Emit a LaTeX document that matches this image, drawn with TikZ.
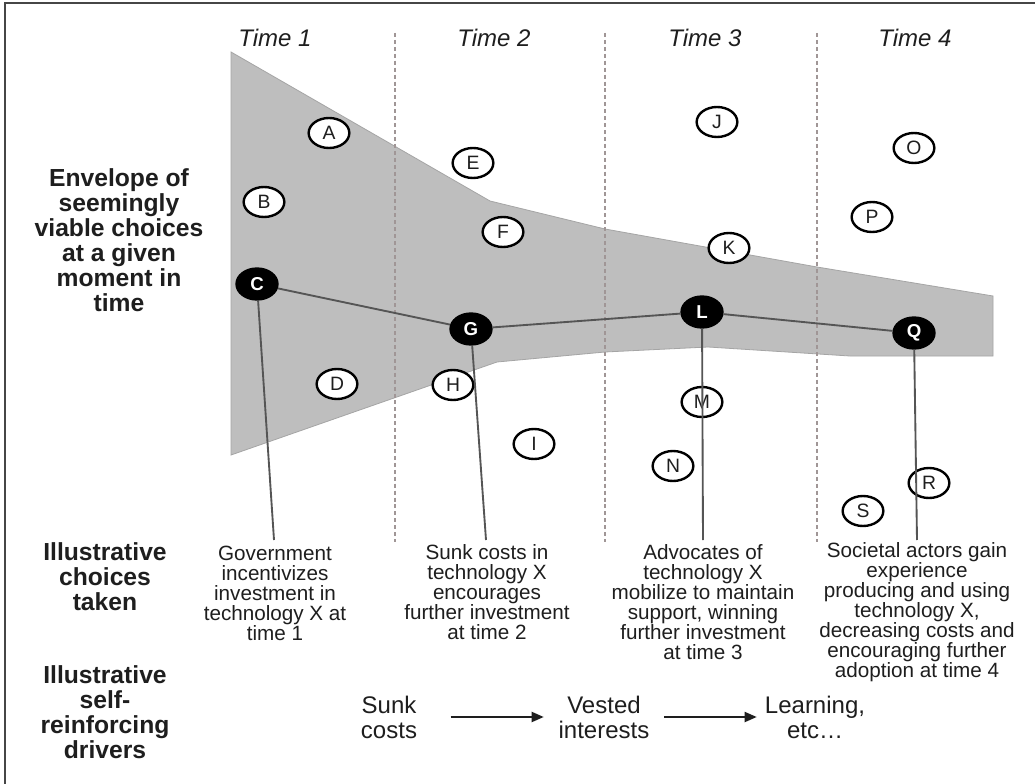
\documentclass[tikz,border=0pt]{standalone}
\usepackage{fontspec}
\setmainfont{Liberation Sans}
\usetikzlibrary{shapes.geometric,arrows.meta}
\definecolor{envfill}{RGB}{190,190,190}
\definecolor{envedge}{RGB}{165,165,165}
\definecolor{sep}{RGB}{160,150,150}
\definecolor{linkc}{RGB}{85,85,85}
\definecolor{txt}{RGB}{30,30,30}
\definecolor{framec}{RGB}{70,70,70}
\begin{document}
\begin{tikzpicture}[x=0.75pt,y=-0.75pt,
  option/.style={ellipse,draw=black,line width=1.8pt,fill=white,
    minimum width=30.5pt,minimum height=22.5pt,inner sep=0pt,
    font=\fontsize{14.5}{14.5}\selectfont,text=txt},
  chosen/.style={ellipse,fill=black,draw=black,line width=1pt,
    minimum width=31.5pt,minimum height=24pt,inner sep=0pt,
    font=\fontsize{14}{14}\selectfont\bfseries,text=white},
  link/.style={draw=linkc,line width=1.4pt},
  sepline/.style={draw=sep,line width=1.2pt,dash pattern=on 3pt off 2.2pt},
  timelbl/.style={font=\fontsize{18}{20}\selectfont\itshape,text=txt,inner sep=0pt},
  rowlbl/.style={font=\fontsize{18.5}{18.75}\selectfont\bfseries,text=txt,align=center,inner sep=0pt},
  choicetxt/.style={font=\fontsize{15.5}{15}\selectfont,text=txt,align=center,inner sep=0pt},
  drivertxt/.style={font=\fontsize{18}{18.75}\selectfont,text=txt,align=center,inner sep=0pt},
  driverarrow/.style={draw=txt,line width=1.4pt,-{Triangle[length=9pt,width=7.5pt]}}
]
\useasboundingbox (0,0) rectangle (1035,784);
\fill[white] (0,0) rectangle (1035,784);

% outer frame
\draw[framec,line width=1.6pt] (5,784) -- (5,3) -- (1035,3);

% envelope of viable choices
\fill[envfill,draw=envedge,line width=0.6pt]
  (231,52) -- (490,201) -- (605,229) -- (817,267) -- (993,296)
  -- (993,356) -- (850,356) -- (708,347) -- (605,352) -- (497,362)
  -- (231,455) -- cycle;

% time separators
\foreach \xx in {395,605,817}
  \draw[sepline] (\xx,33) -- (\xx,542);

% time headings
\node[timelbl] (t1) at (275,38) {Time 1};
\node[timelbl] (t2) at (494,38) {Time 2};
\node[timelbl] (t3) at (705,38) {Time 3};
\node[timelbl] (t4) at (915,38) {Time 4};

% row labels
\node[rowlbl] (envlbl) at (119,240) {Envelope of\\seemingly\\viable choices\\at a given\\moment in\\time};
\node[rowlbl] (chlbl) at (105,577) {Illustrative\\choices\\taken};
\node[rowlbl] (drlbl) at (105,712) {Illustrative\\self-\\reinforcing\\drivers};

% options not taken
\node[option] (A) at (329,133) {A};
\node[option] (B) at (264,202) {B};
\node[option] (D) at (337,384) {D};
\node[option] (E) at (473,163) {E};
\node[option] (F) at (503,232) {F};
\node[option] (H) at (453,385) {H};
\node[option] (I) at (534,444) {I};
\node[option] (J) at (717,122) {J};
\node[option] (K) at (729,248) {K};
\node[option] (M) at (702,402) {M};
\node[option] (N) at (673,466) {N};
\node[option] (O) at (914,148) {O};
\node[option] (P) at (872,217) {P};
\node[option] (R) at (929,483) {R};
\node[option] (S) at (863,511) {S};

% choices taken
\node[chosen] (C) at (257,284) {C};
\node[chosen] (G) at (471,329) {G};
\node[chosen] (L) at (702,312) {L};
\node[chosen] (Q) at (914,333) {Q};

% path of choices
\draw[link] (C) -- (G) -- (L) -- (Q);

% leaders to the descriptions
\coordinate (Cend) at (274,540);
\coordinate (Gend) at (486,540);
\coordinate (Lend) at (703,540);
\coordinate (Qend) at (917,540);
\draw[link] (C) -- (Cend);
\draw[link] (G) -- (Gend);
\draw[link] (L) -- (Lend);
\draw[link] (Q) -- (Qend);

% descriptions of choices
\node[choicetxt] (d1) at (275,593) {Government\\incentivizes\\investment in\\technology X at\\time 1};
\node[choicetxt] (d2) at (487,592) {Sunk costs in\\technology X\\encourages\\further investment\\at time 2};
\node[choicetxt] (d3) at (703,602) {Advocates of\\technology X\\mobilize to maintain\\support, winning\\further investment\\at time 3};
\node[choicetxt] (d4) at (917,612) {Societal actors gain\\experience\\producing and using\\technology X,\\decreasing costs and\\encouraging further\\adoption at time 4};

% self-reinforcing drivers
\node[drivertxt] (sunk) at (389,717) {Sunk\\costs};
\node[drivertxt] (vested) at (604,717) {Vested\\interests};
\node[drivertxt] (learn) at (815,717) {Learning,\\etc\ldots};
\draw[driverarrow,shorten <=25pt,shorten >=11pt] (sunk) -- (vested);
\draw[driverarrow,shorten <=11pt,shorten >=6pt] (vested) -- (learn);
\end{tikzpicture}
\end{document}
